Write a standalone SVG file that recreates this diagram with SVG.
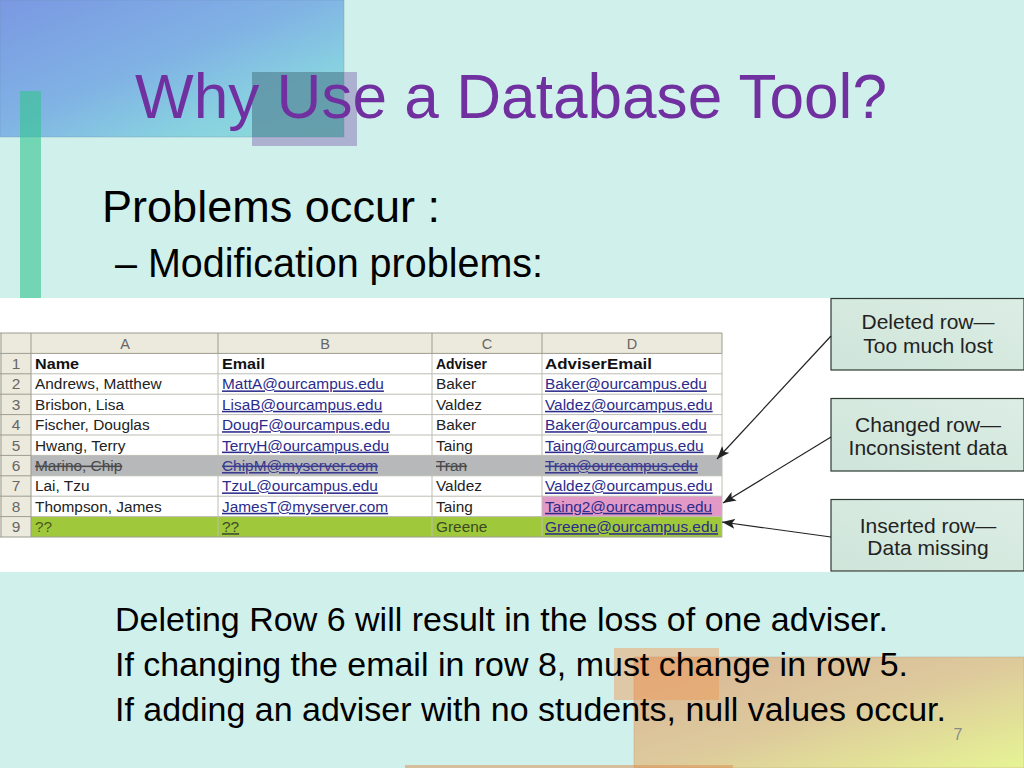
<svg xmlns="http://www.w3.org/2000/svg" width="1024" height="768" viewBox="0 0 1024 768">
<style>
.t{font-family:"Liberation Sans",Arial,Helvetica,sans-serif}
.cell{font-family:"Liberation Sans",Arial,sans-serif;font-size:15.4px;fill:#222}
.hd{font-weight:bold;fill:#111}
.lnk{fill:#2b2b8c;text-decoration:underline}
.del{text-decoration:line-through;fill:#4a4a4a}
.dlnk{fill:#3a3a90;text-decoration:underline line-through}
.rn{font-family:"Liberation Sans",Arial,sans-serif;font-size:15.4px;fill:#666;text-anchor:middle}
.col{font-family:"Liberation Sans",Arial,sans-serif;font-size:14.5px;fill:#666;text-anchor:middle}
.grid{stroke:#bdbdb4;stroke-width:1}
.gridd{stroke:#9c9c92;stroke-width:1}
.box{fill:url(#boxg);stroke:#2c3a32;stroke-width:1.2}
.bt{font-family:"Liberation Sans",Arial,sans-serif;font-size:21px;fill:#222;text-anchor:middle}
.conn{stroke:#222;stroke-width:1.2;fill:none;marker-end:url(#ah)}
.body{font-family:"Liberation Sans",Arial,sans-serif;font-size:32.5px;fill:#000}
</style>
<defs>
<linearGradient id="blueg" x1="0" y1="0" x2="1" y2="1">
<stop offset="0" stop-color="#7a98e2"/>
<stop offset="0.45" stop-color="#80b2e4"/>
<stop offset="0.75" stop-color="#88d2e0"/>
<stop offset="1" stop-color="#8edcd6"/>
</linearGradient>
<linearGradient id="orangeg" x1="0" y1="0" x2="1" y2="1">
<stop offset="0" stop-color="#d9b597"/>
<stop offset="0.5" stop-color="#ddc99c"/>
<stop offset="1" stop-color="#e6f494"/>
</linearGradient>
<linearGradient id="boxg" x1="0" y1="1" x2="1" y2="0">
<stop offset="0" stop-color="#cfe5da"/>
<stop offset="1" stop-color="#dcede4"/>
</linearGradient>
<marker id="ah" markerUnits="userSpaceOnUse" markerWidth="14" markerHeight="10" refX="13" refY="5" orient="auto">
<path d="M0,0 L13,5 L0,10 L3,5 Z" fill="#222"/>
</marker>
</defs>

<!-- background -->
<rect x="0" y="0" width="1024" height="768" fill="#d0f0eb"/>

<!-- decorations -->
<g id="decor">
<rect x="0" y="0" width="344" height="137" fill="url(#blueg)" stroke="#6a8fb0" stroke-opacity="0.35" stroke-width="1"/>
<rect x="252" y="72" width="105" height="74" fill="#7a5aaa" fill-opacity="0.42"/>
<rect x="252" y="72" width="92" height="65" fill="#4c9a98" fill-opacity="0.55"/>
<rect x="20" y="91" width="21" height="207" fill="#33c590" fill-opacity="0.6"/>
<rect x="634" y="657" width="390" height="111" fill="url(#orangeg)" stroke="#b89a80" stroke-opacity="0.4" stroke-width="1"/>
<rect x="614" y="648" width="105" height="52" fill="#f09650" fill-opacity="0.45"/>
<rect x="405" y="765" width="328" height="3" fill="#dc8c50" fill-opacity="0.5"/>
</g>

<!-- title and bullets -->
<text class="t" x="135" y="118" font-size="63" fill="#7030a0" textLength="752" lengthAdjust="spacingAndGlyphs">Why Use a Database Tool?</text>
<text class="t" x="102" y="222" font-size="44" fill="#000" textLength="338" lengthAdjust="spacingAndGlyphs">Problems occur :</text>
<text class="t" x="115" y="277" font-size="40" fill="#000" textLength="428" lengthAdjust="spacingAndGlyphs">– Modification problems:</text>

<!-- white band -->
<rect x="0" y="298" width="1024" height="274" fill="#ffffff"/>

<!-- spreadsheet -->
<g id="table">
<rect x="0" y="333" width="722" height="20.4" fill="#eceadc"/>
<rect x="0" y="353.4" width="31" height="183.6" fill="#eceadc"/>
<rect x="31" y="455.4" width="691" height="20.4" fill="#b6b8ba"/>
<rect x="542" y="496.2" width="180" height="20.4" fill="#e399c6"/>
<rect x="31" y="516.6" width="691" height="20.4" fill="#9fc93a"/>
<g class="grid">
<line x1="31" y1="373.8" x2="722" y2="373.8"/>
<line x1="31" y1="394.2" x2="722" y2="394.2"/>
<line x1="31" y1="414.6" x2="722" y2="414.6"/>
<line x1="31" y1="435" x2="722" y2="435"/>
<line x1="31" y1="455.4" x2="722" y2="455.4"/>
<line x1="31" y1="475.8" x2="722" y2="475.8"/>
<line x1="31" y1="496.2" x2="722" y2="496.2"/>
<line x1="31" y1="516.6" x2="722" y2="516.6"/>
<line x1="218" y1="353.4" x2="218" y2="537"/>
<line x1="432" y1="353.4" x2="432" y2="537"/>
<line x1="542" y1="353.4" x2="542" y2="537"/>
<line x1="722" y1="353.4" x2="722" y2="537"/>
</g>
<g class="gridd">
<line x1="0" y1="333" x2="722" y2="333"/>
<line x1="0" y1="353.4" x2="722" y2="353.4"/>
<line x1="0" y1="537" x2="722" y2="537"/>
<line x1="1" y1="333" x2="1" y2="537"/>
<line x1="31" y1="333" x2="31" y2="537"/>
<line x1="218" y1="333" x2="218" y2="353.4"/>
<line x1="432" y1="333" x2="432" y2="353.4"/>
<line x1="542" y1="333" x2="542" y2="353.4"/>
<line x1="722" y1="333" x2="722" y2="353.4"/>
<line x1="0" y1="373.8" x2="31" y2="373.8"/>
<line x1="0" y1="394.2" x2="31" y2="394.2"/>
<line x1="0" y1="414.6" x2="31" y2="414.6"/>
<line x1="0" y1="435" x2="31" y2="435"/>
<line x1="0" y1="455.4" x2="31" y2="455.4"/>
<line x1="0" y1="475.8" x2="31" y2="475.8"/>
<line x1="0" y1="496.2" x2="31" y2="496.2"/>
<line x1="0" y1="516.6" x2="31" y2="516.6"/>
</g>
<text class="col" x="125" y="348.5">A</text>
<text class="col" x="325" y="348.5">B</text>
<text class="col" x="487" y="348.5">C</text>
<text class="col" x="632" y="348.5">D</text>
<text class="rn" x="16" y="369">1</text>
<text class="rn" x="16" y="389.4">2</text>
<text class="rn" x="16" y="409.8">3</text>
<text class="rn" x="16" y="430.2">4</text>
<text class="rn" x="16" y="450.6">5</text>
<text class="rn" x="16" y="471">6</text>
<text class="rn" x="16" y="491.4">7</text>
<text class="rn" x="16" y="511.8">8</text>
<text class="rn" x="16" y="532.2">9</text>

<text class="cell hd" x="35" y="369" textLength="44" lengthAdjust="spacingAndGlyphs">Name</text>
<text class="cell hd" x="222" y="369" textLength="43" lengthAdjust="spacingAndGlyphs">Email</text>
<text class="cell hd" x="436" y="369" textLength="51" lengthAdjust="spacingAndGlyphs">Adviser</text>
<text class="cell hd" x="545" y="369" textLength="107" lengthAdjust="spacingAndGlyphs">AdviserEmail</text>

<text class="cell" x="35" y="389.4">Andrews, Matthew</text>
<text class="cell lnk" x="222" y="389.4">MattA@ourcampus.edu</text>
<text class="cell" x="436" y="389.4">Baker</text>
<text class="cell lnk" x="545" y="389.4">Baker@ourcampus.edu</text>

<text class="cell" x="35" y="409.8">Brisbon, Lisa</text>
<text class="cell lnk" x="222" y="409.8">LisaB@ourcampus.edu</text>
<text class="cell" x="436" y="409.8">Valdez</text>
<text class="cell lnk" x="545" y="409.8">Valdez@ourcampus.edu</text>

<text class="cell" x="35" y="430.2">Fischer, Douglas</text>
<text class="cell lnk" x="222" y="430.2">DougF@ourcampus.edu</text>
<text class="cell" x="436" y="430.2">Baker</text>
<text class="cell lnk" x="545" y="430.2">Baker@ourcampus.edu</text>

<text class="cell" x="35" y="450.6">Hwang, Terry</text>
<text class="cell lnk" x="222" y="450.6">TerryH@ourcampus.edu</text>
<text class="cell" x="436" y="450.6">Taing</text>
<text class="cell lnk" x="545" y="450.6">Taing@ourcampus.edu</text>

<text class="cell del" x="35" y="471">Marino, Chip</text>
<text class="cell dlnk" x="222" y="471">ChipM@myserver.com</text>
<text class="cell del" x="436" y="471">Tran</text>
<text class="cell dlnk" x="545" y="471">Tran@ourcampus.edu</text>

<text class="cell" x="35" y="491.4">Lai, Tzu</text>
<text class="cell lnk" x="222" y="491.4">TzuL@ourcampus.edu</text>
<text class="cell" x="436" y="491.4">Valdez</text>
<text class="cell lnk" x="545" y="491.4">Valdez@ourcampus.edu</text>

<text class="cell" x="35" y="511.8">Thompson, James</text>
<text class="cell lnk" x="222" y="511.8">JamesT@myserver.com</text>
<text class="cell" x="436" y="511.8">Taing</text>
<text class="cell lnk" x="545" y="511.8">Taing2@ourcampus.edu</text>

<text class="cell" x="35" y="532.2" fill="#4b5a1e" style="fill:#4b5a1e">??</text>
<text class="cell lnk" x="222" y="532.2" style="fill:#3b4a30">??</text>
<text class="cell" x="436" y="532.2" style="fill:#3c4a24">Greene</text>
<text class="cell lnk" x="545" y="532.2">Greene@ourcampus.edu</text>
</g>

<!-- callouts -->
<g id="callout-deleted">
<rect class="box" x="831" y="298.5" width="193" height="71.5"/>
<text class="bt" x="928" y="329">Deleted row—</text>
<text class="bt" x="928" y="353">Too much lost</text>
</g>
<g id="callout-changed">
<rect class="box" x="831" y="398.5" width="193" height="72.5"/>
<text class="bt" x="928" y="432">Changed row—</text>
<text class="bt" x="928" y="455">Inconsistent data</text>
</g>
<g id="callout-inserted">
<rect class="box" x="831" y="499.5" width="193" height="71.5"/>
<text class="bt" x="928" y="533">Inserted row—</text>
<text class="bt" x="928" y="555">Data missing</text>
</g>

<!-- connectors -->
<g id="connectors">
<path class="conn" d="M831,336 L717,459"/>
<path class="conn" d="M831,437 L723,503"/>
<path class="conn" d="M831,537 L722,522"/>
</g>

<!-- bottom text -->
<text class="body" x="115" y="631" textLength="773" lengthAdjust="spacingAndGlyphs">Deleting Row 6 will result in the loss of one adviser.</text>
<text class="body" x="115" y="676" textLength="793" lengthAdjust="spacingAndGlyphs">If changing the email in row 8, must change in row 5.</text>
<text class="body" x="115" y="721" textLength="831" lengthAdjust="spacingAndGlyphs">If adding an adviser with no students, null values occur.</text>

<text class="t" x="958" y="740" font-size="16" fill="#8a8a8a" text-anchor="middle">7</text>
</svg>
